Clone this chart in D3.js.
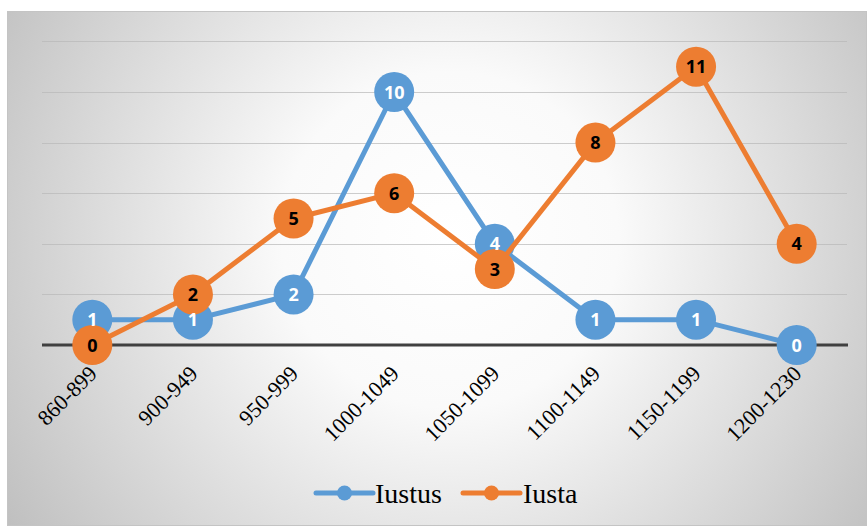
<!DOCTYPE html>
<html><head><meta charset="utf-8">
<script src="https://cdn.jsdelivr.net/npm/d3@7"></script>
<style>html,body{margin:0;padding:0;background:#fff;}svg{display:block;}
.serif{font-family:"Liberation Serif","Times New Roman","DejaVu Serif",serif;}
.lbl{font-family:"Open Sans","Liberation Sans",sans-serif;font-weight:bold;}
</style>
</head><body>
<script>
const categories = ["860-899","900-949","950-999","1000-1049","1050-1099","1100-1149","1150-1199","1200-1230"];
const iustus = [1,1,2,10,4,1,1,0];
const iusta = [0,2,5,6,3,8,11,4];
const yTicks = [2,4,6,8,10,12];
const seriesNames = ["Iustus","Iusta"];
const colors = ["#5B9BD5","#ED7D31"];

const W = 868, H = 527;
const svg = d3.select("body").append("svg").attr("width", W).attr("height", H);
const defs = svg.append("defs");
const grad = defs.append("radialGradient").attr("id","bg")
  .attr("gradientUnits","userSpaceOnUse").attr("cx",450).attr("cy",240).attr("r",560);
grad.append("stop").attr("offset","0").attr("stop-color","#ffffff");
grad.append("stop").attr("offset","0.3").attr("stop-color","#fafafa");
grad.append("stop").attr("offset","1").attr("stop-color","#bababa");

svg.append("rect").attr("x",7.5).attr("y",11.5).attr("width",859).attr("height",514)
  .attr("fill","url(#bg)").attr("stroke","#c4c4c4").attr("stroke-width",1);

const x = d3.scaleBand().domain(categories).range([42, 847]).padding(0);
const y = d3.scaleLinear().domain([0, 12]).range([345, 41.4]);
const cx = d => x(d) + x.bandwidth()/2;

// gridlines
svg.append("g").selectAll("line").data(yTicks).join("line")
  .attr("x1", 42).attr("x2", 847)
  .attr("y1", d => Math.round(y(d)) + 0.5).attr("y2", d => Math.round(y(d)) + 0.5)
  .attr("stroke", "#b8b8b8").attr("stroke-opacity", 0.7).attr("stroke-width", 1.2);

// x axis line
svg.append("line").attr("x1",42).attr("x2",848).attr("y1",y(0)).attr("y2",y(0))
  .attr("stroke","#404040").attr("stroke-width",3.2);

// x labels
svg.append("g").selectAll("text").data(categories).join("text")
  .attr("class","serif")
  .attr("transform", d => `translate(${cx(d)+6},${y(0)+30}) rotate(-45)`)
  .attr("text-anchor","end")
  .attr("font-size",22).attr("fill","#000")
  .text(d => d);

const series = [iustus, iusta];
const line = d3.line().x((d,i) => cx(categories[i])).y(d => y(d));

series.forEach((vals, si) => {
  const g = svg.append("g");
  g.append("path").datum(vals).attr("d", line).attr("fill","none")
    .attr("stroke", colors[si]).attr("stroke-width", 5).attr("stroke-linejoin","round").attr("stroke-linecap","round");
  g.selectAll("circle").data(vals).join("circle")
    .attr("cx", (d,i) => cx(categories[i])).attr("cy", d => y(d)).attr("r", 20)
    .attr("fill", colors[si]);
});

// labels
series.forEach((vals, si) => {
  svg.append("g").selectAll("text").data(vals).join("text")
    .attr("class","lbl")
    .attr("x", (d,i) => cx(categories[i])).attr("y", d => y(d) + 6.5)
    .attr("text-anchor","middle")
    .attr("font-size",18).attr("fill", si === 0 ? "#ffffff" : "#000000")
    .text(d => d);
});

// legend
const legend = [{name: seriesNames[0], x: 316, tx: 375}, {name: seriesNames[1], x: 463, tx: 523}];
legend.forEach((l, i) => {
  const g = svg.append("g");
  g.append("line").attr("x1", l.x).attr("x2", l.x + 57).attr("y1", 493).attr("y2", 493)
    .attr("stroke", colors[i]).attr("stroke-width", 5).attr("stroke-linecap","round");
  g.append("circle").attr("cx", l.x + 28.5).attr("cy", 493).attr("r", 7.5).attr("fill", colors[i]);
  g.append("text").attr("class","serif").attr("x", l.tx).attr("y", 503)
    .attr("font-size",28)
    .attr("fill","#000").text(l.name);
});
</script>
</body></html>
